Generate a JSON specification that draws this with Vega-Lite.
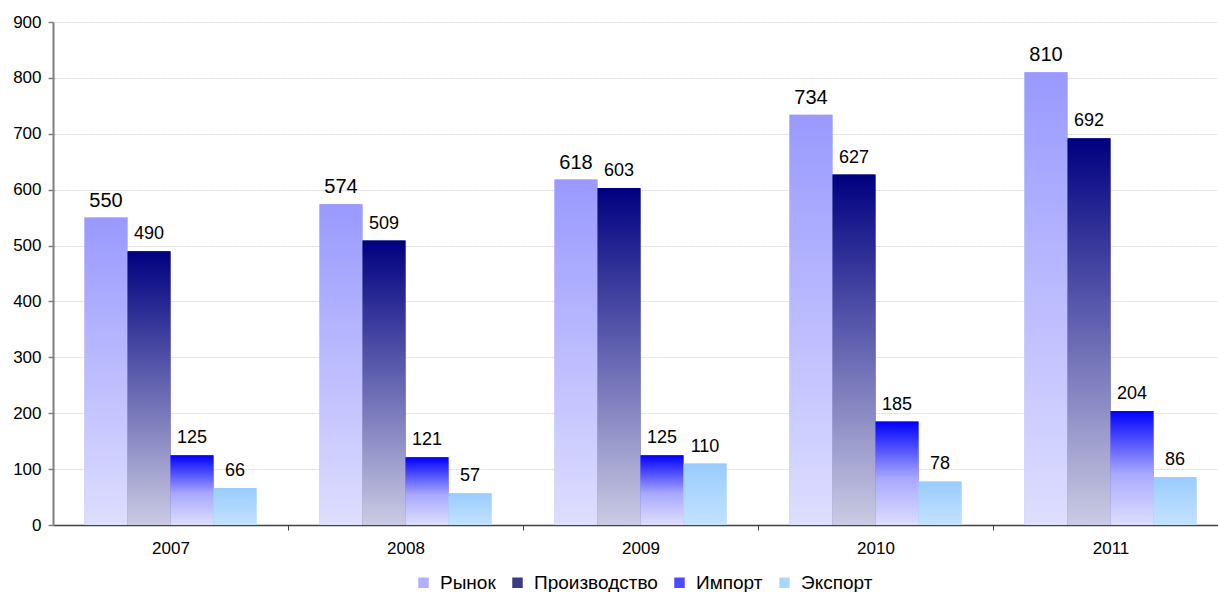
{
  "$schema": "https://vega.github.io/schema/vega-lite/v6.json",
  "width": 1165,
  "height": 503,
  "autosize": {"type": "none"},
  "padding": {"left": 53, "top": 22, "right": 0, "bottom": 67},
  "background": "white",
  "config": {
    "view": {"stroke": null},
    "font": "Liberation Sans",
    "axis": {"labelFont": "Liberation Sans", "labelColor": "#000000"}
  },
  "data": {
    "values": [
      {"year": "2007", "series": "Рынок", "value": 550},
      {"year": "2007", "series": "Производство", "value": 490},
      {"year": "2007", "series": "Импорт", "value": 125},
      {"year": "2007", "series": "Экспорт", "value": 66},
      {"year": "2008", "series": "Рынок", "value": 574},
      {"year": "2008", "series": "Производство", "value": 509},
      {"year": "2008", "series": "Импорт", "value": 121},
      {"year": "2008", "series": "Экспорт", "value": 57},
      {"year": "2009", "series": "Рынок", "value": 618},
      {"year": "2009", "series": "Производство", "value": 603},
      {"year": "2009", "series": "Импорт", "value": 125},
      {"year": "2009", "series": "Экспорт", "value": 110},
      {"year": "2010", "series": "Рынок", "value": 734},
      {"year": "2010", "series": "Производство", "value": 627},
      {"year": "2010", "series": "Импорт", "value": 185},
      {"year": "2010", "series": "Экспорт", "value": 78},
      {"year": "2011", "series": "Рынок", "value": 810},
      {"year": "2011", "series": "Производство", "value": 692},
      {"year": "2011", "series": "Импорт", "value": 204},
      {"year": "2011", "series": "Экспорт", "value": 86}
    ]
  },
  "encoding": {
    "x": {
      "field": "year",
      "type": "nominal",
      "scale": {"range": [0, 1175], "paddingInner": 0.268, "paddingOuter": 0.134},
      "axis": {
        "title": null,
        "labelAngle": 0,
        "labelFontSize": 17,
        "labelPadding": 10,
        "domainColor": "#404040",
        "domainWidth": 1.5,
        "tickOffset": 117.5,
        "labelOffset": -117.5,
        "tickColor": "#404040",
        "tickSize": 5,
        "grid": false
      }
    },
    "xOffset": {
      "field": "series",
      "type": "nominal",
      "scale": {"domain": ["Рынок", "Производство", "Импорт", "Экспорт"], "paddingInner": 0, "paddingOuter": 0}
    },
    "y": {
      "field": "value",
      "type": "quantitative",
      "scale": {"domain": [0, 900], "nice": false},
      "axis": {
        "title": null,
        "values": [0, 100, 200, 300, 400, 500, 600, 700, 800, 900],
        "labelFontSize": 17,
        "labelPadding": 7,
        "domainColor": "#808080",
        "domainWidth": 2,
        "tickColor": "#808080",
        "tickSize": 5,
        "tickWidth": 1.5,
        "gridColor": "#d9d9d9",
        "gridDash": [2, 1],
        "gridWidth": 1
      }
    }
  },
  "layer": [
    {
      "mark": {"type": "bar"},
      "encoding": {
        "color": {
          "field": "series",
          "type": "nominal",
          "scale": {
            "domain": ["Рынок", "Производство", "Импорт", "Экспорт"],
            "range": ["#b0b0ff", "#3a3a85", "#4a4aff", "#add6ff"]
          },
          "legend": {
            "title": null,
            "orient": "none",
            "legendX": 361,
            "legendY": 551,
            "direction": "horizontal",
            "padding": 0,
            "symbolType": "square",
            "symbolSize": 110,
            "symbolStrokeWidth": 0,
            "labelFontSize": 19,
            "labelFont": "Liberation Sans",
            "labelColor": "#000000",
            "columnPadding": 12,
            "labelOffset": 7
          }
        }
      }
    },
    {
      "transform": [{"filter": "datum.series === 'Рынок'"}],
      "mark": {"type": "bar", "color": {"gradient": "linear", "x1": 0, "y1": 0, "x2": 0, "y2": 1, "stops": [{"offset": 0, "color": "#9999ff"}, {"offset": 1, "color": "#dedeff"}]}}
    },
    {
      "transform": [{"filter": "datum.series === 'Производство'"}],
      "mark": {"type": "bar", "color": {"gradient": "linear", "x1": 0, "y1": 0, "x2": 0, "y2": 1, "stops": [{"offset": 0, "color": "#000080"}, {"offset": 1, "color": "#cbcbe4"}]}}
    },
    {
      "transform": [{"filter": "datum.series === 'Импорт'"}],
      "mark": {"type": "bar", "color": {"gradient": "linear", "x1": 0, "y1": 0, "x2": 0, "y2": 1, "stops": [{"offset": 0, "color": "#0000ff"}, {"offset": 0.55, "color": "#a8a8ff"}, {"offset": 1, "color": "#dedeff"}]}}
    },
    {
      "transform": [{"filter": "datum.series === 'Экспорт'"}],
      "mark": {"type": "bar", "color": {"gradient": "linear", "x1": 0, "y1": 0, "x2": 0, "y2": 1, "stops": [{"offset": 0, "color": "#99ccff"}, {"offset": 1, "color": "#c4e2ff"}]}}
    },
    {
      "transform": [{"filter": "datum.series === 'Рынок'"}],
      "mark": {"type": "text", "baseline": "bottom", "dy": -7, "fontSize": 20, "color": "#000000"},
      "encoding": {"text": {"field": "value", "type": "quantitative"}}
    },
    {
      "transform": [{"filter": "datum.series !== 'Рынок'"}],
      "mark": {"type": "text", "baseline": "bottom", "dy": -8, "fontSize": 18, "color": "#000000"},
      "encoding": {"text": {"field": "value", "type": "quantitative"}}
    }
  ]
}
